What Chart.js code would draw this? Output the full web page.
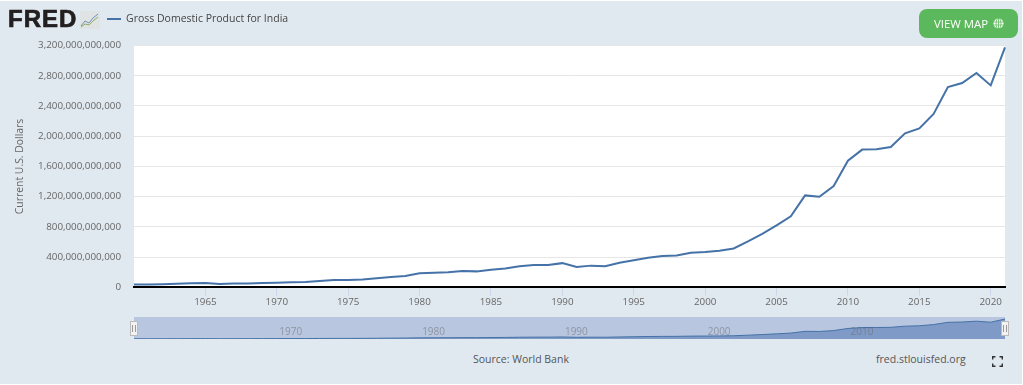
<!DOCTYPE html>
<html>
<head>
<meta charset="utf-8">
<script src="https://cdn.jsdelivr.net/npm/chart.js@4/dist/chart.umd.min.js"></script>
<style>
html, body { margin: 0; padding: 0; background: #fff; }
body { width: 1023px; height: 385px; overflow: hidden; position: relative; font-family: "Open Sans", sans-serif; }
#panel { position: absolute; left: 0; top: 1px; width: 1022px; height: 383px; background: #e1e9f0; }
canvas { position: absolute; left: 0; }
#mainChart { top: 0; }
#navChart { top: 310px; }
.txt { position: absolute; white-space: nowrap; color: #555; font-size: 10.5px; }
#logo { left: 8px; top: 5px; font-family: "Liberation Sans", sans-serif; font-weight: 700; font-size: 24px; letter-spacing: 1px; color: #231f20; -webkit-text-stroke: 0.7px #231f20; }
#logoIcon { position: absolute; left: 80px; top: 11px; }
#legendLine { position: absolute; left: 107px; top: 18px; width: 14px; height: 2px; background: #4572a7; }
#legendText { left: 126px; top: 11px; color: #444; }
#mapBtn { position: absolute; left: 919px; top: 9px; width: 99px; height: 29px; border-radius: 8px; background: #5cb85c; color: #fff; font-size: 11.4px; line-height: 29px; }
#mapBtn span { position: absolute; left: 15px; }
#mapBtn svg { position: absolute; left: 74px; top: 9px; }
#source { left: 473px; top: 352px; }
#site { left: 876px; top: 352px; }
#fullscreen { position: absolute; left: 992px; top: 356px; }
</style>
</head>
<body>
<div id="panel"></div>
<canvas id="mainChart" width="1023" height="310"></canvas>
<canvas id="navChart" width="1023" height="36"></canvas>
<div class="txt" id="logo">FRED</div>
<svg id="logoIcon" width="20" height="18" viewBox="0 0 20 18">
  <rect x="0" y="0" width="20" height="18" fill="#dfe3e3"/>
  <polyline points="1,15 5,10 9,12 13,7 18,3" fill="none" stroke="#6f93b8" stroke-width="1"/>
  <polyline points="1,16 5,13 9,14 13,10 18,6" fill="none" stroke="#8fae62" stroke-width="1"/>
</svg>
<div id="legendLine"></div>
<div class="txt" id="legendText">Gross Domestic Product for India</div>
<div id="mapBtn"><span>VIEW MAP</span>
  <svg width="11" height="11" viewBox="0 0 11 11">
    <circle cx="5.5" cy="5.5" r="5" fill="#fff"/>
    <path d="M0.5 4H10.5M0.5 7H10.5M5.5 0.5V10.5" stroke="#5cb85c" stroke-width="0.8"/>
    <ellipse cx="5.5" cy="5.5" rx="2.4" ry="5" fill="none" stroke="#5cb85c" stroke-width="0.8"/>
  </svg>
</div>
<div class="txt" id="source">Source: World Bank</div>
<div class="txt" id="site">fred.stlouisfed.org</div>
<svg id="fullscreen" width="11" height="11" viewBox="0 0 11 11">
  <path d="M0.7 3.5V0.7H3.5M7.5 0.7H10.3V3.5M10.3 7.5V10.3H7.5M3.5 10.3H0.7V7.5" fill="none" stroke="#333" stroke-width="1.4"/>
</svg>
<script>
// Data
const years = [1960, 1961, 1962, 1963, 1964, 1965, 1966, 1967, 1968, 1969,
    1970, 1971, 1972, 1973, 1974, 1975, 1976, 1977, 1978, 1979,
    1980, 1981, 1982, 1983, 1984, 1985, 1986, 1987, 1988, 1989,
    1990, 1991, 1992, 1993, 1994, 1995, 1996, 1997, 1998, 1999,
    2000, 2001, 2002, 2003, 2004, 2005, 2006, 2007, 2008, 2009,
    2010, 2011, 2012, 2013, 2014, 2015, 2016, 2017, 2018, 2019,
    2020, 2021];
const gdpBillions = [37, 39, 42, 48, 56, 59, 45, 50, 53, 58,
    62, 67, 71, 85, 99, 98, 103, 121, 137, 152,
    186, 193, 200, 218, 212, 232, 249, 279, 296, 296,
    321, 270, 288, 279, 327, 360, 393, 415, 421, 459,
    468, 485, 515, 608, 709, 820, 940, 1217, 1199, 1342,
    1676, 1823, 1828, 1857, 2039, 2104, 2295, 2651, 2703, 2836,
    2672, 3176];
const navLabelYears = [1970, 1980, 1990, 2000, 2010];

const points = years.map((y, i) => ({ x: y, y: gdpBillions[i] * 1e9 }));
const fontFamily = '"Open Sans", sans-serif';

// Main chart
new Chart(document.getElementById('mainChart').getContext('2d'), {
    type: 'line',
    data: {
        datasets: [{
            label: 'Gross Domestic Product for India',
            data: points,
            borderColor: '#4572a7',
            borderWidth: 2,
            pointRadius: 0,
            tension: 0,
            clip: false
        }]
    },
    options: {
        responsive: false,
        animation: false,
        layout: { padding: { top: 45.5, right: 18, bottom: 0, left: 0 } },
        plugins: {
            legend: { display: false },
            tooltip: { enabled: false }
        },
        scales: {
            x: {
                type: 'linear',
                min: 1960,
                max: 2021,
                afterBuildTicks: scale => {
                    scale.ticks = years.filter(y => y % 5 === 0 && y > 1960).map(y => ({ value: y }));
                },
                ticks: {
                    autoSkip: false,
                    maxRotation: 0,
                    color: '#666',
                    padding: 1,
                    font: { family: fontFamily, size: 9.8 },
                    callback: v => String(v)
                },
                afterFit: scale => { scale.height = 22.6; },
                grid: { display: true, drawOnChartArea: false, color: '#ccd6eb', tickLength: 8 },
                border: { color: '#000', width: 2 }
            },
            y: {
                min: 0,
                max: 3.2e12,
                afterBuildTicks: scale => {
                    const list = [];
                    for (let v = 0; v <= 3.2e12; v += 4e11) list.push({ value: v });
                    scale.ticks = list;
                },
                title: {
                    display: true,
                    text: 'Current U.S. Dollars',
                    color: '#666',
                    padding: { top: 14, bottom: 0 },
                    font: { family: fontFamily, size: 10.4 }
                },
                ticks: {
                    color: '#666',
                    padding: 13,
                    font: { family: fontFamily, size: 9.8 },
                    callback: v => v.toLocaleString('en-US')
                },
                afterFit: scale => { scale.width = 134; },
                grid: { color: '#e6e6e6', drawTicks: false },
                border: { display: false }
            }
        }
    },
    plugins: [{
        id: 'plotBg',
        beforeDraw(chart) {
            const a = chart.chartArea;
            chart.ctx.save();
            chart.ctx.fillStyle = '#ffffff';
            chart.ctx.fillRect(a.left, a.top, a.right - a.left, a.bottom - a.top);
            chart.ctx.restore();
        }
    }]
});

// Navigator strip below the main chart
new Chart(document.getElementById('navChart').getContext('2d'), {
    type: 'line',
    data: {
        datasets: [{
            data: points,
            borderColor: '#4572a7',
            borderWidth: 1,
            backgroundColor: '#7f9ac6',
            fill: 'origin',
            pointRadius: 0,
            tension: 0
        }]
    },
    options: {
        responsive: false,
        animation: false,
        layout: { padding: { top: 7, right: 18, bottom: 7, left: 134 } },
        plugins: { legend: { display: false }, tooltip: { enabled: false } },
        scales: {
            x: { type: 'linear', display: false, min: 1960, max: 2021 },
            y: { display: false, min: 0, max: 3.5e12 }
        }
    },
    plugins: [{
        id: 'navDecor',
        beforeDatasetsDraw(chart) {
            const a = chart.chartArea, ctx = chart.ctx;
            ctx.save();
            ctx.fillStyle = '#b8c6e0';
            ctx.fillRect(a.left, a.top, a.right - a.left, a.bottom - a.top);
            ctx.restore();
        },
        afterDraw(chart) {
            const a = chart.chartArea, ctx = chart.ctx, x = chart.scales.x;
            ctx.save();
            ctx.font = '10px ' + fontFamily;
            ctx.fillStyle = 'rgba(102,102,102,0.5)';
            ctx.textAlign = 'center';
            ctx.textBaseline = 'middle';
            navLabelYears.forEach(y => ctx.fillText(String(y), x.getPixelForValue(y) + 14, a.top + 15));
            [a.left, a.right].forEach(px => {
                const c = Math.round(px);
                ctx.fillStyle = '#f2f2f2';
                ctx.strokeStyle = '#bbb';
                ctx.fillRect(c - 3.5, 11.5, 7, 14);
                ctx.strokeRect(c - 3.5, 11.5, 7, 14);
                ctx.strokeStyle = '#999';
                ctx.beginPath();
                ctx.moveTo(c - 1.5, 15); ctx.lineTo(c - 1.5, 22);
                ctx.moveTo(c + 1.5, 15); ctx.lineTo(c + 1.5, 22);
                ctx.stroke();
            });
            ctx.restore();
        }
    }]
});
</script>
</body>
</html>
